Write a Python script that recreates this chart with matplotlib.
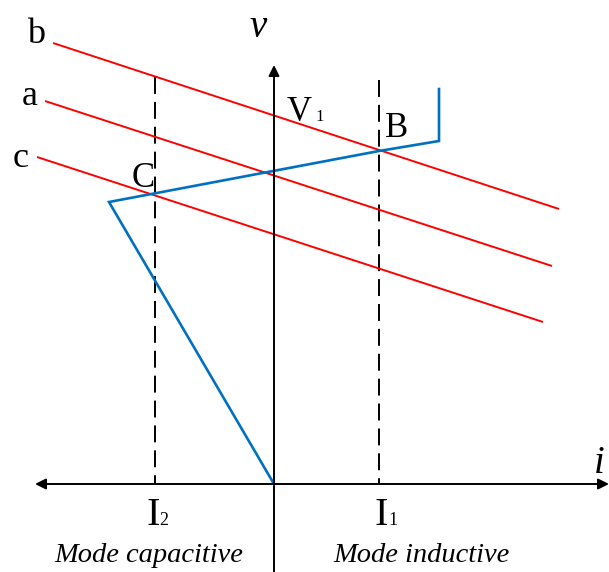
import matplotlib
matplotlib.use("Agg")
import matplotlib.pyplot as plt

# coordinates with the origin where the two axes cross (1 unit ~ 1 px)
load_b_x = [-221, 285]
load_b_y = [441, 275]
load_a_x = [-229, 278]
load_a_y = [383, 218]
load_c_x = [-237, 269]
load_c_y = [327, 162]

# characteristic V-I (blue)
char_x = [0, -165, 105, 165, 165]
char_y = [0, 282, 333, 343, 395]

# operating currents
I2_x = -119
I1_x = 105
I2_top = 407
I1_top = 404

x_axis = (-239, 335)
y_axis = (-88, 419)

RED = "#FF0000"
BLUE = "#0070C0"
SERIF = ["Liberation Serif", "DejaVu Serif"]


def arrow(ax, x0, y0, x1, y1):
    ax.annotate("", xy=(x1, y1), xytext=(x0, y0),
                arrowprops=dict(arrowstyle="-|>", color="black", lw=1.4,
                                mutation_scale=16, shrinkA=0, shrinkB=0))


def main():
    fig = plt.figure(figsize=(6.09, 5.72), dpi=100)
    ax = fig.add_axes([0, 0, 1, 1])
    ax.set_xlim(-274, 335)
    ax.set_ylim(-88, 484)
    ax.axis("off")

    # axes
    arrow(ax, 0, 0, x_axis[0], 0)
    arrow(ax, 0, 0, x_axis[1], 0)
    ax.plot([0, 0], [y_axis[0], 0], color="black", lw=1.4)
    arrow(ax, 0, 0, 0, y_axis[1])

    # dashed current lines (drawn from the top down)
    for xv, top in [(I2_x, I2_top), (I1_x, I1_top)]:
        ax.plot([xv, xv], [top, 0], color="black", lw=1.4, dashes=(8.7, 4.1))

    # load lines
    for xs, ys in [(load_b_x, load_b_y), (load_a_x, load_a_y), (load_c_x, load_c_y)]:
        ax.plot(xs, ys, color=RED, lw=1.4, solid_capstyle="butt")

    ax.plot(char_x, char_y, color=BLUE, lw=1.9, solid_joinstyle="miter")

    # labels
    ax.text(-238, 441, "b", fontsize=26, family=SERIF, ha="center", va="baseline")
    ax.text(-244, 379, "a", fontsize=26, family=SERIF, ha="center", va="baseline")
    ax.text(-253, 317, "c", fontsize=26, family=SERIF, ha="center", va="baseline")
    ax.text(-131, 297, "C", fontsize=25, family=SERIF, ha="center", va="baseline")
    ax.text(123, 347, "B", fontsize=25, family=SERIF, ha="center", va="baseline")
    ax.text(13, 363, "V", fontsize=25, family=SERIF, ha="left", va="baseline")
    ax.text(41, 363, "1", fontsize=12, family=SERIF, ha="left", va="baseline")
    ax.text(-16, 447, "v", fontsize=28, family=SERIF, style="italic",
            ha="center", va="baseline")
    ax.text(325, 11, "i", fontsize=28, family=SERIF, style="italic",
            ha="center", va="baseline")

    ax.text(-128, -41, "I", fontsize=29, family=SERIF, ha="left", va="baseline")
    ax.text(-115, -41, "2", fontsize=13, family=SERIF, ha="left", va="baseline")
    ax.text(101, -41, "I", fontsize=29, family=SERIF, ha="left", va="baseline")
    ax.text(114, -41, "1", fontsize=13, family=SERIF, ha="left", va="baseline")

    ax.text(-125, -78, "Mode capacitive", fontsize=20.5, family=SERIF, style="italic",
            ha="center", va="baseline")
    ax.text(147, -78, "Mode inductive", fontsize=20.5, family=SERIF, style="italic",
            ha="center", va="baseline")

    fig.savefig("out.png", dpi=100)
    plt.close(fig)


if __name__ == "__main__":
    main()
